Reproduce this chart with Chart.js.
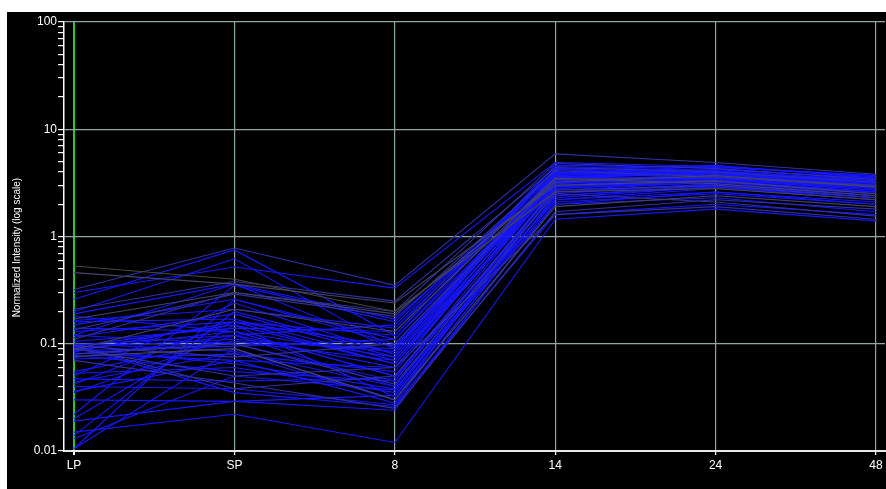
<!DOCTYPE html>
<html>
<head>
<meta charset="utf-8">
<script src="https://cdn.jsdelivr.net/npm/chart.js@4"></script>
<style>
  html, body { margin: 0; padding: 0; background: #ffffff; width: 886px; height: 489px; overflow: hidden; }
  #frame { position: absolute; left: 7px; top: 12px; width: 879px; height: 477px; background: #000000; }
  canvas { display: block; }
</style>
</head>
<body>
<div id="frame"><canvas id="c" width="879" height="477"></canvas></div>
<script>
// Categories (time points)
const categories = ['LP', 'SP', '8', '14', '24', '48'];
// Y tick labels (log decades)
const yTickLabels = ['0.01', '0.1', '1', '10', '100'];
const yTickValues = [0.01, 0.1, 1, 10, 100];
const yTitle = 'Normalized Intensity (log scale)';

// Profiles: values at LP, SP, 8, 14, 24, 48
const profiles = [
  [0.53, 0.40, 0.20, 2.6, 2.8, 2.2],
  [0.46, 0.36, 0.24, 3.0, 3.3, 2.5],
  [0.32, 0.78, 0.35, 5.9, 4.9, 3.8],
  [0.30, 0.52, 0.33, 4.9, 4.5, 3.6],
  [0.26, 0.75, 0.12, 4.2, 4.6, 3.5],
  [0.21, 0.38, 0.25, 4.4, 4.0, 3.2],
  [0.20, 0.62, 0.09, 3.8, 4.3, 3.4],
  [0.19, 0.36, 0.17, 3.5, 3.9, 3.0],
  [0.17, 0.30, 0.19, 3.2, 3.7, 2.9],
  [0.165, 0.21, 0.14, 3.9, 4.1, 3.3],
  [0.16, 0.17, 0.07, 2.9, 3.4, 2.7],
  [0.15, 0.26, 0.11, 3.6, 3.8, 3.1],
  [0.14, 0.13, 0.05, 2.5, 3.1, 2.4],
  [0.135, 0.29, 0.18, 4.1, 3.6, 2.9],
  [0.13, 0.16, 0.095, 3.3, 3.5, 2.8],
  [0.12, 0.10, 0.045, 2.8, 3.3, 2.6],
  [0.115, 0.19, 0.075, 3.7, 4.2, 3.5],
  [0.105, 0.14, 0.13, 4.6, 4.4, 3.7],
  [0.10, 0.085, 0.04, 2.3, 2.9, 2.2],
  [0.098, 0.12, 0.06, 3.0, 3.5, 2.9],
  [0.096, 0.075, 0.10, 3.4, 3.6, 3.0],
  [0.094, 0.15, 0.032, 2.7, 3.2, 2.5],
  [0.092, 0.11, 0.085, 3.9, 4.0, 3.3],
  [0.09, 0.065, 0.038, 2.0, 2.6, 2.0],
  [0.088, 0.13, 0.05, 3.1, 3.7, 3.0],
  [0.086, 0.095, 0.11, 4.3, 3.9, 3.2],
  [0.084, 0.16, 0.065, 3.6, 3.4, 2.7],
  [0.082, 0.07, 0.028, 2.4, 3.0, 2.3],
  [0.08, 0.105, 0.09, 3.2, 3.8, 3.1],
  [0.078, 0.055, 0.045, 2.9, 3.3, 2.6],
  [0.076, 0.09, 0.03, 1.9, 2.4, 1.9],
  [0.074, 0.12, 0.15, 4.0, 3.7, 3.0],
  [0.072, 0.08, 0.055, 3.5, 4.0, 3.4],
  [0.07, 0.043, 0.025, 1.7, 2.2, 1.8],
  [0.055, 0.105, 0.07, 3.4, 3.6, 2.9],
  [0.053, 0.06, 0.035, 2.6, 3.1, 2.5],
  [0.05, 0.24, 0.08, 3.8, 3.9, 3.1],
  [0.047, 0.045, 0.048, 2.2, 2.8, 2.2],
  [0.044, 0.082, 0.03, 3.0, 3.4, 2.8],
  [0.042, 0.16, 0.12, 4.5, 4.1, 3.3],
  [0.04, 0.038, 0.027, 1.6, 2.0, 1.6],
  [0.036, 0.07, 0.06, 3.3, 3.8, 3.2],
  [0.035, 0.12, 0.04, 2.8, 3.2, 2.6],
  [0.03, 0.029, 0.024, 2.1, 2.5, 2.0],
  [0.022, 0.35, 0.16, 4.2, 3.8, 3.0],
  [0.02, 0.15, 0.065, 3.1, 3.5, 2.8],
  [0.019, 0.029, 0.033, 2.4, 2.9, 2.3],
  [0.015, 0.022, 0.012, 1.45, 1.8, 1.4],
  [0.014, 0.20, 0.08, 3.6, 4.0, 3.3],
  [0.013, 0.05, 0.037, 2.6, 3.0, 2.4],
  [0.0105, 0.26, 0.10, 3.7, 3.9, 3.2],
  [0.0105, 0.09, 0.03, 2.2, 2.6, 2.1],
  [0.11, 0.30, 0.20, 4.8, 4.3, 3.4],
  [0.088, 0.21, 0.13, 3.5, 3.1, 2.4],
  [0.09, 0.05, 0.06, 1.6, 1.9, 1.45],
  [0.08, 0.10, 0.042, 2.5, 2.1, 1.55],
  [0.095, 0.035, 0.026, 2.0, 2.3, 1.7],
  [0.12, 0.36, 0.09, 3.9, 4.5, 3.7],
  [0.18, 0.13, 0.075, 3.2, 3.3, 2.6],
  [0.097, 0.038, 0.05, 2.7, 3.0, 2.3]
];
// Tone of each profile line
const profileTones = [
  'olive','gray','dim','blue','blue','dim','blue','blue','gray','blue',
  'blue','blue','blue','dim','blue','blue','blue','blue','blue','blue',
  'dim','blue','blue','blue','blue','blue','blue','blue','blue','blue',
  'gray','blue','blue','dim','blue','blue','blue','blue','blue','blue',
  'blue','blue','blue','blue','blue','blue','blue','blue','blue','blue',
  'blue','blue','dim','gray','dim','dim','blue','blue','blue','dim'
];
const toneColors = {
  blue: 'rgb(22,22,255)',
  dim: 'rgb(48,48,165)',
  gray: 'rgb(68,68,105)',
  olive: 'rgb(72,72,55)'
};

const pxPerCat = 160.4;
const xMin = -10 / pxPerCat;
const xMax = (categories.length - 1) + 9 / pxPerCat;

const toneOrder = { olive: 0, gray: 1, dim: 2, blue: 3 };
const datasets = profiles
  .map((vals, i) => ({ vals, tone: profileTones[i] }))
  .sort((a, b) => toneOrder[a.tone] - toneOrder[b.tone])
  .map(p => ({
    data: p.vals.map((v, i) => ({ x: i, y: v })),
    borderColor: toneColors[p.tone],
    borderWidth: 1.1,
    pointRadius: 0,
    tension: 0,
    fill: false
  }));

const gridTeal = '#8fa6a6';
function isDecade(v) {
  const l = Math.log10(v);
  return Math.abs(l - Math.round(l)) < 1e-9;
}

new Chart(document.getElementById('c'), {
  type: 'line',
  data: { datasets },
  options: {
    responsive: false,
    animation: false,
    devicePixelRatio: 1,
    layout: { padding: { top: 10, right: 1, left: 0, bottom: 0 } },
    plugins: { legend: { display: false }, tooltip: { enabled: false } },
    scales: {
      x: {
        type: 'linear',
        min: xMin,
        max: xMax,
        afterFit: s => { s.height = 38; },
        ticks: {
          stepSize: 1,
          includeBounds: false,
          autoSkip: false,
          maxRotation: 0,
          padding: 3,
          color: '#ffffff',
          font: { family: 'Liberation Sans', size: 12 },
          callback: v => (Number.isInteger(v) && v >= 0 && v < categories.length) ? categories[v] : ''
        },
        grid: {
          color: ctx => (ctx.tick && ctx.tick.value === 0) ? '#2fc42f' : gridTeal,
          lineWidth: ctx => (ctx.tick && ctx.tick.value === 0) ? 2 : 1.2,
          tickColor: '#ffffff',
          tickLength: 4,
          drawTicks: true
        },
        border: { display: true, color: '#e8e8e8', width: 2 }
      },
      y: {
        type: 'logarithmic',
        min: 0.01,
        max: 100,
        afterFit: s => { s.width = 57; },
        afterBuildTicks: s => {
          const t = [];
          for (let d = -2; d <= 2; d++) {
            for (let m = 1; m <= 9; m++) {
              const v = +(m * Math.pow(10, d)).toPrecision(6);
              if (v <= 100) t.push({ value: v });
            }
          }
          s.ticks = t;
        },
        ticks: {
          autoSkip: false,
          padding: 1,
          color: '#ffffff',
          font: { family: 'Liberation Sans', size: 12 },
          callback: v => {
            const k = yTickValues.findIndex(d => Math.abs(d - v) / d < 1e-6);
            return k >= 0 ? yTickLabels[k] : '';
          }
        },
        grid: {
          color: ctx => (ctx.tick && isDecade(ctx.tick.value)) ? gridTeal : 'rgba(0,0,0,0)',
          lineWidth: 1.2,
          tickColor: '#ffffff',
          tickLength: 6,
          drawTicks: true
        },
        border: { display: true, color: '#ffffff', width: 1.5 },
        title: {
          display: true,
          text: yTitle + '        ',
          color: '#ffffff',
          font: { family: 'Liberation Sans', size: 10 },
          padding: { top: 4, bottom: 0 }
        }
      }
    }
  }
});
</script>
</body>
</html>
